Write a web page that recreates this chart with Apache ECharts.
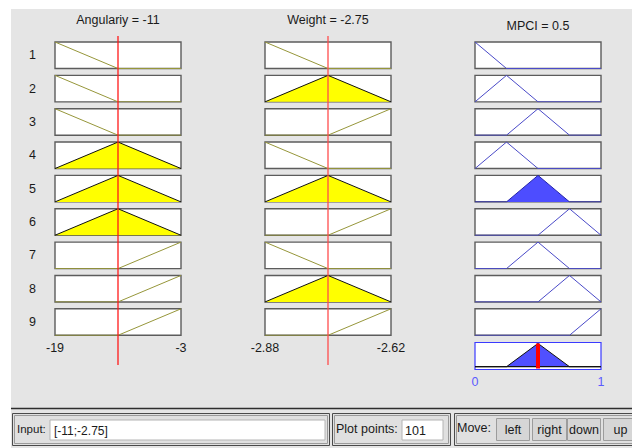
<!DOCTYPE html>
<html><head><meta charset="utf-8">
<script src="https://cdn.jsdelivr.net/npm/echarts/dist/echarts.min.js"></script>
<style>html,body{margin:0;padding:0;background:#fff}#c{width:632px;height:448px}</style>
</head><body><div id="c"></div><script>
// ---------- data ----------
const rowLabels = ['1','2','3','4','5','6','7','8','9'];
const angularityName = 'Angulariy';
const angularityRange = [-19, -3];
const angularityInput = -11;
const weightName = 'Weight';
const weightRange = [-2.88, -2.62];
const weightInput = -2.75;
const mpciName = 'MPCI';
const mpciRange = [0, 1];
const mpciOutput = 0.5;
const plotPoints = 101;

// membership function vertices [x, degree]
const angularityMF = {
  low:    [[-19, 1], [-11, 0], [-3, 0]],
  medium: [[-19, 0], [-11, 1], [-3, 0]],
  high:   [[-19, 0], [-11, 0], [-3, 1]]
};
const weightMF = {
  low:    [[-2.88, 1], [-2.75, 0], [-2.62, 0]],
  medium: [[-2.88, 0], [-2.75, 1], [-2.62, 0]],
  high:   [[-2.88, 0], [-2.75, 0], [-2.62, 1]]
};
const mpciMF = {
  mf1: [[0, 1], [0.25, 0], [1, 0]],
  mf2: [[0, 0], [0.25, 1], [0.5, 0], [1, 0]],
  mf3: [[0, 0], [0.25, 0], [0.5, 1], [0.75, 0], [1, 0]],
  mf4: [[0, 0], [0.5, 0], [0.75, 1], [1, 0]],
  mf5: [[0, 0], [0.75, 0], [1, 1]]
};
const ruleAngularity = ['low','low','low','medium','medium','medium','high','high','high'];
const ruleWeight     = ['low','medium','high','low','medium','high','low','medium','high'];
const ruleOutput     = ['mf1','mf2','mf3','mf2','mf3','mf4','mf3','mf4','mf5'];
const angularityDegree = [0, 0, 0, 1, 1, 1, 0, 0, 0];
const weightDegree     = [0, 1, 0, 0, 1, 0, 0, 1, 0];
const ruleFiring       = [0, 0, 0, 0, 1, 0, 0, 0, 0];
const aggregateMF = [[0, 0], [0.25, 0], [0.5, 1], [0.75, 0], [1, 0]];

// ---------- layout ----------
const FONT = 'Arial, "Liberation Sans", sans-serif';
const colLeft = [55, 265, 475], colW = 126;
const rowTop0 = 42, rowPitch = 33.35, rowH = 26.5;
const aggTop = 342.5, aggH = 27;

const grids = [], xAxes = [], yAxes = [], series = [];
function hiddenX(gi, r){ return {gridIndex: gi, type:'value', min:r[0], max:r[1], show:false}; }
function hiddenY(gi, r){ return {gridIndex: gi, type:'value', min:r[0], max:r[1], show:false}; }
function labelX(gi, r, color){
  return {gridIndex: gi, type:'value', min:r[0], max:r[1],
    axisLine:{show:false}, axisTick:{show:false}, splitLine:{show:false},
    axisLabel:{show:true, margin:6, fontSize:12.5, fontFamily:FONT, color:color,
      customValues:[r[0], r[1]], formatter: v => String(Number(v.toFixed(2)))}};
}
function addGrid(g){ grids.push(g); return grids.length - 1; }

const cols = [
  {range: angularityRange, mf: angularityMF, rule: ruleAngularity, deg: angularityDegree},
  {range: weightRange, mf: weightMF, rule: ruleWeight, deg: weightDegree}
];

for (let i = 0; i < rowLabels.length; i++) {
  const top = rowTop0 + i * rowPitch;
  cols.forEach((c, ci) => {
    const gi = addGrid({left: colLeft[ci], top: top, width: colW, height: rowH, show: true,
      backgroundColor: '#ffffff', borderColor: '#5c5c5c', borderWidth: 1.4});
    xAxes.push(i === rowLabels.length - 1 ? labelX(gi, c.range, '#1a1a1a') : hiddenX(gi, c.range));
    const yi = yAxes.length;
    yAxes.push(hiddenY(gi, [0, 1]));
    if (ci === 0) {
      yAxes.push({gridIndex: gi, type:'category', data:[rowLabels[i]], position:'left',
        axisLine:{show:false}, axisTick:{show:false}, splitLine:{show:false},
        axisLabel:{margin:19, fontSize:12.5, fontFamily:FONT, color:'#1a1a1a'}});
    }
    const fired = c.deg[i] > 0;
    series.push({type:'line', xAxisIndex: gi, yAxisIndex: yi, data: c.mf[c.rule[i]],
      symbol:'none', silent:true, animation:false, z: 3,
      lineStyle:{color: fired ? '#111111' : '#96963a', width: 1},
      areaStyle: fired ? {color:'#ffff00', opacity:1} : null});
  });
  // output column
  const gi = addGrid({left: colLeft[2], top: top, width: colW, height: rowH, show: true,
    backgroundColor: '#ffffff', borderColor: '#5c5c5c', borderWidth: 1.4});
  xAxes.push(hiddenX(gi, mpciRange));
  const yi = yAxes.length;
  yAxes.push(hiddenY(gi, [0, 1]));
  const fired = ruleFiring[i] > 0;
  series.push({type:'line', xAxisIndex: gi, yAxisIndex: yi, data: mpciMF[ruleOutput[i]],
    symbol:'none', silent:true, animation:false, z: 3,
    lineStyle:{color: fired ? '#2222aa' : '#4a4ac8', width: 1},
    areaStyle: fired ? {color:'#4d4dff', opacity:1} : null});
}

// aggregate output
const ag = addGrid({left: colLeft[2], top: aggTop, width: colW, height: aggH, show: true,
  backgroundColor: '#ffffff', borderColor: '#3a3aff', borderWidth: 1.2});
xAxes.push(labelX(ag, mpciRange, '#5a5aff'));
const agY = yAxes.length;
yAxes.push(hiddenY(ag, [-0.12, 1.04]));
series.push({type:'line', xAxisIndex: ag, yAxisIndex: agY, data: aggregateMF,
  symbol:'none', silent:true, animation:false, z: 3,
  lineStyle:{color:'#111111', width: 1}, areaStyle:{color:'#5050ff', opacity:1}});
series.push({type:'line', xAxisIndex: ag, yAxisIndex: agY, data: [[mpciRange[0], 0], [mpciRange[1], 0]],
  symbol:'none', silent:true, animation:false, z: 4, lineStyle:{color:'#111111', width: 1.3}});
series.push({type:'line', xAxisIndex: ag, yAxisIndex: agY, data: [[mpciOutput, -0.08], [mpciOutput, 1.0]],
  symbol:'none', silent:true, animation:false, z: 6, lineStyle:{color:'#ff0000', width: 4}});

// red input lines (overlay grids)
[[angularityRange, angularityInput, 0], [weightRange, weightInput, 1]].forEach(([r, v, ci]) => {
  const gi = addGrid({left: colLeft[ci], top: 36, width: colW, height: 329, show: false});
  xAxes.push(hiddenX(gi, r));
  const yi = yAxes.length;
  yAxes.push(hiddenY(gi, [0, 1]));
  series.push({type:'line', xAxisIndex: gi, yAxisIndex: yi, data: [[v, 0], [v, 1]],
    symbol:'none', silent:true, animation:false, z: 10,
    lineStyle:{color: ci === 0 ? '#ff1a1a' : '#ff4d4d', width: 1.3}});
});

// ---------- static panel graphics ----------
function txt(x, y, s, o){ return Object.assign({type:'text', x:x, y:y, silent:true,
  style:Object.assign({text:s, fill:'#1a1a1a', font:'12.5px ' + FONT, align:'left', verticalAlign:'middle'}, o || {})}); }
function rect(x, y, w, h, fill, stroke, lw, z){ return {type:'rect', silent:true, z: z || -50,
  shape:{x:x, y:y, width:w, height:h}, style:{fill:fill, stroke:stroke || null, lineWidth:lw || 1}}; }

const graphics = [
  rect(11, 9, 621, 399, '#e5e5e5', null, 0, -100),
  rect(11, 408, 621, 40, '#e5e5e5', null, 0, -100),
  {type:'line', silent:true, z:-40, shape:{x1:11, y1:408.5, x2:632, y2:408.5}, style:{stroke:'#2e2e2e', lineWidth:1.5}},
  // titles
  txt(colLeft[0] + colW / 2, 20, angularityName + ' = ' + angularityInput, {align:'center'}),
  txt(colLeft[1] + colW / 2, 20, weightName + ' = ' + weightInput, {align:'center'}),
  txt(colLeft[2] + colW / 2, 26, mpciName + ' = ' + mpciOutput, {align:'center'}),
  // bottom frames
  rect(12.5, 413.5, 317, 32, '#e0e0e0', '#4a4a4a', 1, -40),
  rect(14.5, 415.5, 313, 28, null, '#9a9a9a', 1, -39),
  rect(332.5, 413.5, 118, 32, '#e0e0e0', '#4a4a4a', 1, -40),
  rect(334.5, 415.5, 114, 28, null, '#9a9a9a', 1, -39),
  rect(454.5, 413.5, 190, 32, '#e0e0e0', '#4a4a4a', 1, -40),
  rect(456.5, 415.5, 186, 28, null, '#9a9a9a', 1, -39),
  rect(50, 420, 275, 20, '#ffffff', '#b4b4b4', 1, -30),
  rect(402, 420, 41, 20, '#ffffff', '#b4b4b4', 1, -30),
  txt(17, 429, 'Input:', {font:'11.5px ' + FONT}),
  txt(54, 431, '[' + angularityInput + ';' + weightInput + ']', {font:'12px ' + FONT}),
  txt(336, 429, 'Plot points:'),
  txt(405, 431, String(plotPoints)),
  txt(457, 428, 'Move:')
];
[['left', 496, 33], ['right', 532, 34], ['down', 567, 33], ['up', 603, 34]].forEach(([s, x, w]) => {
  graphics.push(rect(x + 0.5, 418.5, w, 22, '#d6d6d6', '#9c9c9c', 1, -30));
  graphics.push(txt(x + w / 2 + 0.5, 429.5, s, {align:'center'}));
});

const chart = echarts.init(document.getElementById('c'), null, {renderer:'svg'});
chart.setOption({
  backgroundColor:'#ffffff',
  animation:false,
  grid: grids, xAxis: xAxes, yAxis: yAxes, series: series,
  graphic: graphics
});
</script></body></html>
